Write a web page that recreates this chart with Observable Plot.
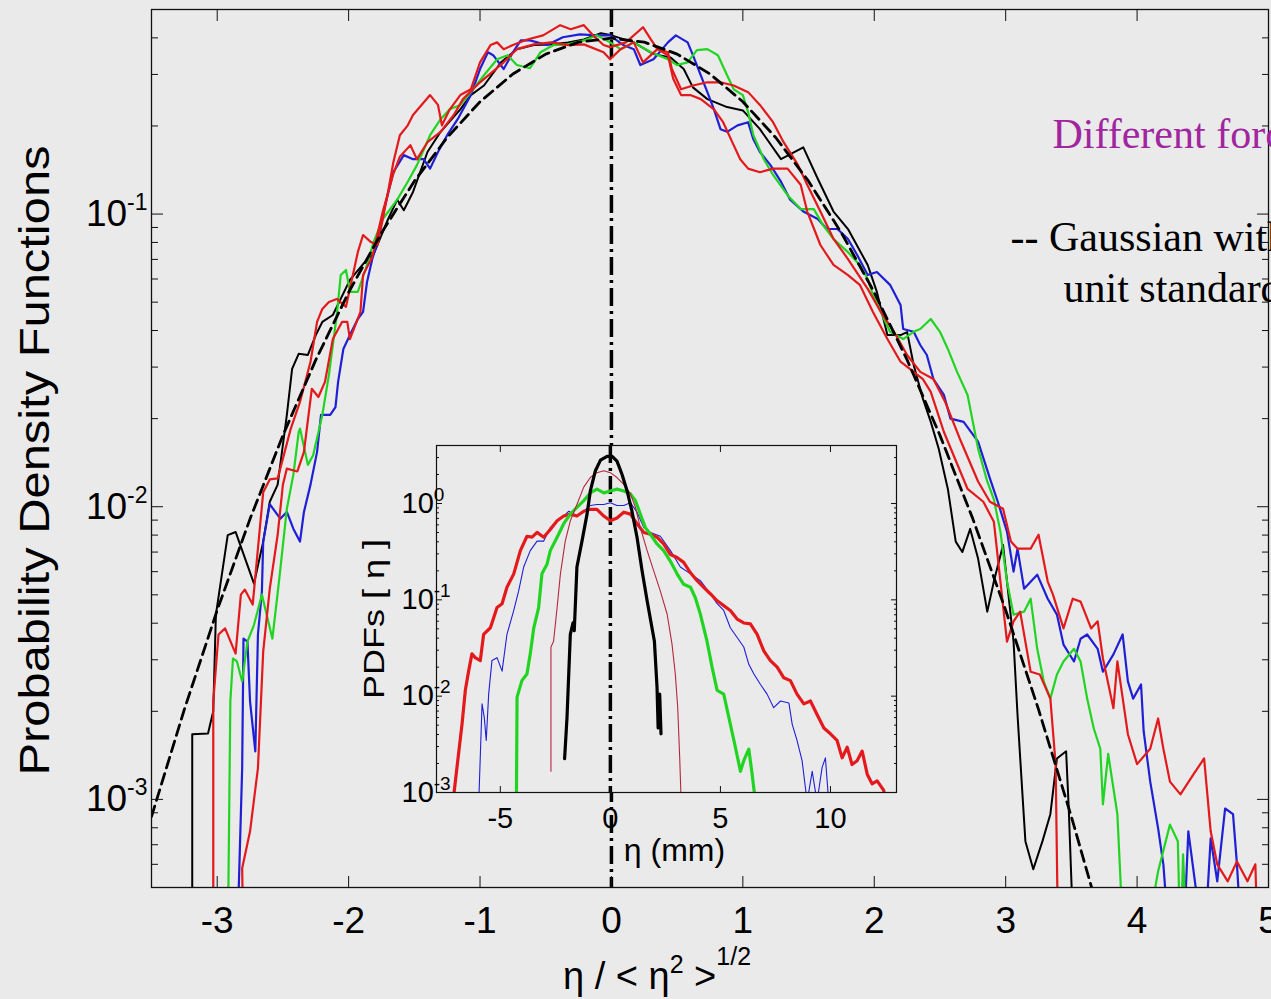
<!DOCTYPE html>
<html><head><meta charset="utf-8">
<script src="https://cdn.jsdelivr.net/npm/d3@7"></script>
<script src="https://cdn.jsdelivr.net/npm/@observablehq/plot@0.6"></script>
<style>
html,body{margin:0;padding:0;background:#eaeaea;overflow:hidden;width:1271px;height:999px;}
#wrap{position:relative;width:1271px;height:999px;}
#main{position:absolute;left:0;top:0;}
#inset{position:absolute;left:340px;top:430px;}
</style></head><body><div id="wrap"><div id="main"></div><div id="inset"></div></div>
<script>
// ---------- main panel: normalised elevation eta / <eta^2>^(1/2) ----------
const xTicks = [-3, -2, -1, 0, 1, 2, 3, 4, 5];
const yMajor = [1e-3, 1e-2, 1e-1];
const yMinor = [5e-4,6e-4,7e-4,8e-4,9e-4,2e-3,3e-3,4e-3,5e-3,6e-3,7e-3,8e-3,9e-3,2e-2,3e-2,4e-2,5e-2,6e-2,7e-2,8e-2,9e-2,0.2,0.3,0.4,0.5];

// Gaussian with zero mean and unit standard deviation (read at 0.25 steps)
const gaussX = [-3.5,-3.25,-3,-2.75,-2.5,-2.25,-2,-1.75,-1.5,-1.25,-1,-0.75,-0.5,-0.25,0,0.25,0.5,0.75,1,1.25,1.5,1.75,2,2.25,2.5,2.75,3,3.25,3.5,3.75];
const gaussY = [8.73e-4,2.03e-3,4.43e-3,9.09e-3,0.01753,0.03174,0.05399,0.08628,0.1295,0.1826,0.2420,0.3011,0.3521,0.3867,0.3989,0.3867,0.3521,0.3011,0.2420,0.1826,0.1295,0.08628,0.05399,0.03174,0.01753,9.09e-3,4.43e-3,2.03e-3,8.73e-4,3.53e-4];

const mainBlack = [[-3.19,3e-4],[-3.19,1.67e-3],[-3.07,1.68e-3],[-3.03,2.0e-3],[-3.01,4.28e-3],[-2.92,8.0e-3],[-2.86,8.2e-3],[-2.72,5.46e-3],[-2.65,7.6e-3],[-2.60,0.0104],[-2.54,0.0119],[-2.47,0.0206],[-2.43,0.0296],[-2.38,0.0333],[-2.31,0.0330],[-2.25,0.0386],[-2.20,0.0428],[-2.12,0.0452],[-1.99,0.0596],[-1.89,0.0675],[-1.81,0.073],[-1.70,0.096],[-1.63,0.112],[-1.58,0.103],[-1.51,0.119],[-1.40,0.163],[-1.30,0.191],[-1.15,0.228],[-1.07,0.255],[-0.97,0.275],[-0.84,0.330],[-0.72,0.366],[-0.59,0.378],[-0.46,0.380],[-0.33,0.386],[-0.21,0.395],[-0.08,0.415],[0.0,0.408],[0.17,0.386],[0.32,0.352],[0.45,0.343],[0.55,0.313],[0.62,0.271],[0.73,0.247],[0.88,0.232],[1.00,0.226],[1.13,0.195],[1.29,0.154],[1.46,0.169],[1.57,0.132],[1.69,0.102],[1.80,0.0889],[1.95,0.067],[2.02,0.0542],[2.10,0.0386],[2.20,0.0386],[2.25,0.0395],[2.30,0.0305],[2.37,0.0234],[2.43,0.0195],[2.49,0.0158],[2.56,0.0115],[2.62,7.6e-3],[2.67,7.0e-3],[2.73,8.4e-3],[2.79,6.65e-3],[2.86,4.38e-3],[2.91,5.55e-3],[2.98,7.4e-3],[3.06,3.46e-3],[3.09,1.95e-3],[3.13,1.0e-3],[3.15,7.2e-4],[3.21,5.77e-4],[3.28,7.2e-4],[3.34,8.9e-4],[3.39,1.38e-3],[3.46,1.46e-3],[3.48,9.3e-4],[3.52,3e-4]];

const mainRedA = [[-3.03,3e-4],[-3.03,2.16e-3],[-2.99,3.66e-3],[-2.94,3.84e-3],[-2.86,3.15e-3],[-2.82,5.01e-3],[-2.79,5.21e-3],[-2.73,4.63e-3],[-2.65,0.0112],[-2.60,0.0124],[-2.54,0.0125],[-2.50,0.0146],[-2.44,0.0185],[-2.37,0.0228],[-2.29,0.0313],[-2.24,0.0428],[-2.20,0.0474],[-2.15,0.0501],[-2.09,0.0513],[-2.02,0.0482],[-1.93,0.0741],[-1.89,0.0848],[-1.83,0.0802],[-1.78,0.0784],[-1.74,0.0962],[-1.70,0.119],[-1.66,0.150],[-1.61,0.186],[-1.55,0.201],[-1.51,0.218],[-1.38,0.255],[-1.32,0.236],[-1.29,0.201],[-1.23,0.228],[-1.15,0.255],[-1.07,0.267],[-1.00,0.330],[-0.92,0.378],[-0.87,0.386],[-0.82,0.366],[-0.75,0.378],[-0.64,0.395],[-0.52,0.408],[-0.39,0.442],[-0.31,0.428],[-0.21,0.442],[-0.14,0.408],[-0.06,0.378],[-0.01,0.372],[0.11,0.386],[0.24,0.435],[0.30,0.395],[0.35,0.366],[0.43,0.357],[0.46,0.313],[0.53,0.267],[0.62,0.275],[0.73,0.282],[0.83,0.282],[0.93,0.275],[1.04,0.261],[1.13,0.236],[1.23,0.206],[1.31,0.176],[1.42,0.147],[1.49,0.126],[1.59,0.102],[1.69,0.0822],[1.80,0.0702],[1.95,0.0555],[2.05,0.0463],[2.15,0.0396],[2.25,0.0330],[2.35,0.0289],[2.45,0.0273],[2.54,0.0228],[2.66,0.0167],[2.79,0.0122],[2.88,0.0104],[2.98,9.84e-3],[3.04,7.6e-3],[3.09,7.19e-3],[3.19,7.19e-3],[3.25,8.02e-3],[3.32,5.55e-3],[3.36,5.01e-3],[3.44,3.84e-3],[3.51,4.85e-3],[3.57,4.74e-3],[3.65,3.84e-3],[3.70,4.06e-3],[3.74,3.03e-3],[3.82,2.05e-3],[3.85,2.96e-3],[3.93,1.67e-3],[4.00,1.32e-3],[4.10,1.49e-3],[4.16,1.89e-3],[4.20,1.49e-3],[4.25,1.15e-3],[4.33,1.04e-3],[4.43,1.22e-3],[4.51,1.38e-3],[4.56,7.78e-4],[4.61,6.0e-4],[4.69,5.25e-4],[4.76,6.14e-4],[4.84,5.25e-4],[4.90,6.0e-4],[4.92,3e-4]];

const mainRedB = [[-2.80,3e-4],[-2.81,5.82e-4],[-2.75,7.78e-4],[-2.69,1.28e-3],[-2.65,3.2e-3],[-2.60,5.25e-3],[-2.54,8.02e-3],[-2.50,0.0119],[-2.47,0.0135],[-2.39,0.0132],[-2.34,0.0154],[-2.28,0.0253],[-2.23,0.0237],[-2.18,0.0267],[-2.12,0.0374],[-2.05,0.0428],[-2.01,0.0428],[-1.99,0.0374],[-1.91,0.0463],[-1.89,0.0619],[-1.82,0.0714],[-1.74,0.102],[-1.66,0.137],[-1.61,0.157],[-1.53,0.172],[-1.48,0.154],[-1.40,0.176],[-1.30,0.191],[-1.20,0.218],[-1.13,0.247],[-1.00,0.282],[-0.82,0.330],[-0.72,0.366],[-0.59,0.380],[-0.46,0.386],[-0.33,0.378],[-0.21,0.380],[-0.06,0.357],[-0.01,0.338],[0.07,0.366],[0.17,0.386],[0.24,0.330],[0.35,0.366],[0.43,0.349],[0.47,0.290],[0.53,0.255],[0.60,0.255],[0.68,0.247],[0.78,0.228],[0.85,0.206],[0.93,0.172],[0.98,0.154],[1.04,0.143],[1.13,0.139],[1.23,0.143],[1.34,0.143],[1.44,0.126],[1.49,0.102],[1.59,0.0784],[1.69,0.0670],[1.80,0.0619],[1.89,0.0573],[1.99,0.0463],[2.10,0.0374],[2.20,0.0313],[2.30,0.0289],[2.37,0.0273],[2.43,0.0247],[2.53,0.0180],[2.71,0.0115],[2.83,0.0104],[2.91,8.89e-3],[2.96,5.55e-3],[3.01,3.46e-3],[3.06,4.06e-3],[3.11,4.38e-3],[3.19,2.73e-3],[3.26,2.67e-3],[3.34,2.21e-3],[3.38,1.32e-3],[3.40,3e-4]];

const mainBlue = [[-2.85,3e-4],[-2.81,1.28e-3],[-2.80,3.54e-3],[-2.77,3.46e-3],[-2.75,2.16e-3],[-2.71,1.46e-3],[-2.69,3.66e-3],[-2.66,5.13e-3],[-2.65,7.6e-3],[-2.60,0.0102],[-2.52,9.1e-3],[-2.47,9.6e-3],[-2.42,8.4e-3],[-2.37,7.6e-3],[-2.34,9.6e-3],[-2.29,0.0119],[-2.24,0.0154],[-2.21,0.0206],[-2.14,0.0206],[-2.10,0.0219],[-2.08,0.0267],[-2.04,0.0346],[-1.99,0.0386],[-1.93,0.0438],[-1.89,0.0463],[-1.86,0.0586],[-1.82,0.0702],[-1.78,0.0802],[-1.74,0.0992],[-1.66,0.139],[-1.58,0.159],[-1.51,0.154],[-1.43,0.154],[-1.38,0.143],[-1.32,0.163],[-1.25,0.186],[-1.17,0.211],[-1.07,0.255],[-1.00,0.313],[-0.94,0.357],[-0.90,0.349],[-0.82,0.313],[-0.75,0.357],[-0.69,0.392],[-0.62,0.392],[-0.49,0.378],[-0.37,0.402],[-0.24,0.411],[-0.11,0.408],[-0.01,0.408],[0.09,0.378],[0.17,0.366],[0.22,0.323],[0.32,0.338],[0.43,0.386],[0.49,0.408],[0.58,0.386],[0.62,0.349],[0.68,0.298],[0.73,0.261],[0.78,0.228],[0.83,0.195],[0.88,0.191],[0.96,0.201],[1.04,0.206],[1.08,0.180],[1.13,0.163],[1.21,0.147],[1.29,0.129],[1.36,0.112],[1.46,0.102],[1.57,0.0962],[1.64,0.0889],[1.72,0.0889],[1.80,0.0822],[1.87,0.0725],[1.95,0.0619],[2.02,0.0634],[2.12,0.0573],[2.20,0.0489],[2.22,0.0405],[2.30,0.0396],[2.35,0.0357],[2.40,0.0330],[2.45,0.0273],[2.53,0.0241],[2.58,0.0200],[2.68,0.0195],[2.79,0.0167],[2.88,0.0125],[2.94,0.0104],[3.01,8.22e-3],[3.06,6.0e-3],[3.09,7.19e-3],[3.14,5.25e-3],[3.24,5.86e-3],[3.32,4.85e-3],[3.39,4.28e-3],[3.44,3.38e-3],[3.52,2.96e-3],[3.57,3.54e-3],[3.62,3.66e-3],[3.70,3.27e-3],[3.74,2.73e-3],[3.82,3.13e-3],[3.89,3.66e-3],[3.93,2.53e-3],[3.97,2.21e-3],[4.03,2.47e-3],[4.05,1.71e-3],[4.10,1.15e-3],[4.16,7.96e-4],[4.20,6.0e-4],[4.25,3e-4],[4.35,3e-4],[4.39,7.78e-4],[4.44,5.25e-4],[4.51,3e-4],[4.56,7.36e-4],[4.61,5.25e-4],[4.67,9.31e-4],[4.73,8.9e-4],[4.76,6.0e-4],[4.80,3e-4]];

const mainGreen = [[-2.92,3e-4],[-2.90,2.16e-3],[-2.88,3.03e-3],[-2.85,2.96e-3],[-2.81,2.53e-3],[-2.77,3.46e-3],[-2.72,3.95e-3],[-2.66,5.01e-3],[-2.58,3.54e-3],[-2.53,5.55e-3],[-2.47,9.84e-3],[-2.42,0.0129],[-2.38,0.0180],[-2.37,0.0185],[-2.31,0.0139],[-2.27,0.0150],[-2.20,0.0206],[-2.15,0.0282],[-2.09,0.0452],[-2.06,0.0619],[-2.02,0.0644],[-1.99,0.0542],[-1.93,0.0542],[-1.87,0.0649],[-1.81,0.0802],[-1.74,0.0962],[-1.63,0.112],[-1.55,0.129],[-1.48,0.147],[-1.38,0.186],[-1.30,0.211],[-1.23,0.228],[-1.15,0.236],[-1.07,0.261],[-0.97,0.298],[-0.87,0.338],[-0.79,0.349],[-0.72,0.323],[-0.62,0.315],[-0.54,0.357],[-0.44,0.378],[-0.33,0.380],[-0.21,0.392],[-0.11,0.408],[-0.01,0.386],[0.07,0.366],[0.17,0.386],[0.30,0.357],[0.43,0.338],[0.50,0.323],[0.58,0.330],[0.65,0.363],[0.73,0.366],[0.81,0.349],[0.88,0.298],[0.93,0.267],[1.00,0.255],[1.04,0.223],[1.08,0.186],[1.16,0.154],[1.23,0.136],[1.34,0.116],[1.44,0.104],[1.54,0.104],[1.61,0.0917],[1.69,0.0822],[1.80,0.0741],[1.89,0.0670],[1.95,0.0600],[1.99,0.0530],[2.05,0.0463],[2.12,0.0396],[2.22,0.0374],[2.30,0.0396],[2.35,0.0405],[2.43,0.0438],[2.50,0.0396],[2.56,0.0346],[2.63,0.0289],[2.71,0.0241],[2.79,0.0158],[2.86,0.0122],[2.91,0.0106],[2.96,8.22e-3],[3.01,5.55e-3],[3.06,4.28e-3],[3.14,4.38e-3],[3.19,4.85e-3],[3.24,3.27e-3],[3.29,2.53e-3],[3.34,2.21e-3],[3.39,2.67e-3],[3.44,2.96e-3],[3.52,3.27e-3],[3.57,2.96e-3],[3.62,2.21e-3],[3.67,1.75e-3],[3.72,1.49e-3],[3.74,9.62e-4],[3.78,1.43e-3],[3.85,8.9e-4],[3.90,3e-4],[4.05,3e-4],[4.16,5.68e-4],[4.25,8.2e-4],[4.31,7.2e-4],[4.33,3e-4],[4.35,6.49e-4],[4.38,3e-4]];

// ---------- inset: PDFs of eta in mm ----------
const insetXTicks = [-5, 0, 5, 10];
const insetYMajor = [1e-3, 1e-2, 1e-1, 1];
const insetYMinor = [2e-3,3e-3,4e-3,5e-3,6e-3,7e-3,8e-3,9e-3,2e-2,3e-2,4e-2,5e-2,6e-2,7e-2,8e-2,9e-2,0.2,0.3,0.4,0.5,0.6,0.7,0.8,0.9,2,3,4];

const insetBlack = [[-2.08,2.24e-3],[-1.97,6.03e-3],[-1.82,0.0437],[-1.70,0.0575],[-1.64,0.0479],[-1.52,0.219],[-1.29,0.407],[-1.06,0.776],[-0.91,1.35],[-0.68,2.19],[-0.45,2.82],[-0.15,3.09],[0.08,3.09],[0.30,2.75],[0.53,2.0],[0.76,1.35],[0.98,0.832],[1.21,0.447],[1.44,0.200],[1.67,0.0977],[1.89,0.0513],[2.00,0.0372],[2.12,0.0123],[2.17,4.68e-3],[2.24,0.0105],[2.30,4.07e-3]];
const insetDarkRed = [[-2.70,1.66e-3],[-2.70,0.0324],[-2.58,0.0372],[-2.42,0.0832],[-2.27,0.186],[-2.05,0.407],[-1.82,0.661],[-1.52,0.977],[-1.21,1.48],[-0.91,1.86],[-0.61,2.09],[-0.30,2.19],[0,2.09],[0.30,1.86],[0.61,1.58],[0.91,1.26],[1.14,0.912],[1.36,0.562],[1.67,0.324],[1.97,0.200],[2.27,0.123],[2.58,0.0708],[2.80,0.0347],[2.95,0.0170],[3.06,7.59e-3],[3.15,2.29e-3],[3.21,8.9e-4]];
const insetGreen = [[-4.27,8e-4],[-4.24,9.77e-3],[-4.02,0.0145],[-3.79,0.0170],[-3.64,0.0275],[-3.48,0.0513],[-3.26,0.0832],[-3.11,0.186],[-2.88,0.234],[-2.73,0.324],[-2.42,0.447],[-2.12,0.617],[-1.82,0.776],[-1.52,0.912],[-1.21,1.07],[-0.91,1.29],[-0.61,1.41],[-0.30,1.29],[0,1.35],[0.30,1.41],[0.61,1.35],[0.91,1.26],[1.14,1.07],[1.36,0.776],[1.59,0.562],[1.82,0.479],[2.12,0.380],[2.42,0.324],[2.73,0.251],[3.03,0.186],[3.33,0.145],[3.64,0.135],[3.86,0.105],[4.09,0.0708],[4.39,0.0372],[4.62,0.0200],[4.85,0.0115],[5.15,0.0105],[5.45,5.13e-3],[5.68,2.95e-3],[5.91,1.66e-3],[6.06,2.14e-3],[6.29,2.82e-3],[6.44,1.55e-3],[6.59,8e-4]];
const insetBlue = [[-5.98,8e-4],[-5.83,8.32e-3],[-5.73,6.03e-3],[-5.64,3.47e-3],[-5.53,0.0105],[-5.38,0.0234],[-5.15,0.0251],[-4.92,0.0182],[-4.70,0.0437],[-4.39,0.0776],[-4.17,0.123],[-3.94,0.219],[-3.64,0.324],[-3.33,0.407],[-3.03,0.407],[-2.73,0.562],[-2.42,0.661],[-2.12,0.741],[-1.89,0.832],[-1.52,0.741],[-1.21,0.832],[-0.91,0.955],[-0.61,0.977],[-0.30,0.977],[0,1.02],[0.30,0.955],[0.61,0.955],[0.91,1.02],[1.21,0.813],[1.52,0.562],[1.82,0.501],[2.27,0.457],[2.73,0.324],[3.18,0.219],[3.64,0.186],[4.09,0.158],[4.55,0.115],[4.85,0.0912],[5.15,0.0776],[5.45,0.0513],[5.76,0.0407],[6.06,0.0324],[6.29,0.0214],[6.52,0.0170],[6.82,0.0132],[7.12,0.0105],[7.42,7.59e-3],[7.73,8.91e-3],[8.11,8.51e-3],[8.26,5.13e-3],[8.48,3.47e-3],[8.71,2.14e-3],[8.94,8e-4],[9.17,1.66e-3],[9.39,8e-4],[9.62,1.82e-3],[9.77,2.29e-3],[9.92,8e-4]];
const insetRed = [[-7.15,8e-4],[-6.97,1.82e-3],[-6.74,5.13e-3],[-6.59,0.0115],[-6.44,0.0182],[-6.29,0.0275],[-6.14,0.0251],[-5.91,0.0234],[-5.76,0.0437],[-5.45,0.0513],[-5.15,0.0832],[-4.92,0.0912],[-4.70,0.135],[-4.39,0.186],[-4.09,0.324],[-3.79,0.457],[-3.56,0.447],[-3.33,0.501],[-3.03,0.447],[-2.73,0.537],[-2.42,0.661],[-2.12,0.741],[-1.82,0.776],[-1.52,0.741],[-1.21,0.832],[-0.91,0.871],[-0.61,0.871],[-0.30,0.741],[0,0.661],[0.30,0.708],[0.61,0.813],[0.91,0.776],[1.21,0.617],[1.52,0.501],[1.82,0.479],[2.12,0.447],[2.42,0.380],[2.73,0.295],[3.03,0.275],[3.33,0.245],[3.64,0.191],[3.94,0.158],[4.24,0.135],[4.55,0.115],[4.85,0.0977],[5.15,0.0871],[5.45,0.0776],[5.76,0.0631],[6.06,0.0575],[6.36,0.0562],[6.67,0.0437],[6.97,0.0295],[7.27,0.0234],[7.58,0.0200],[7.88,0.0155],[8.18,0.0145],[8.48,0.0105],[8.79,8.32e-3],[9.09,8.91e-3],[9.39,6.46e-3],[9.70,4.68e-3],[10.0,4.07e-3],[10.30,3.47e-3],[10.53,2.29e-3],[10.76,2.95e-3],[10.98,1.95e-3],[11.21,2.14e-3],[11.44,2.69e-3],[11.67,1.55e-3],[11.89,1.23e-3],[12.12,1.32e-3],[12.42,1.05e-3],[12.5,8e-4]];

const BG = "#eaeaea";
const RED = "#e3191c", BLUE = "#1f1fd6", GREEN = "#22d422", DARKRED = "#b3283a";
const SANS = "'Liberation Sans', Arial, Helvetica, sans-serif";
const SERIF = "'Liberation Serif', 'Times New Roman', serif";
const sup = d => "10^" + Math.round(Math.log10(d));
const hyph = d => (d < 0 ? "-" + Math.abs(d) : String(d));
const ln = (data, stroke, w) => Plot.line(data, {x: d => d[0], y: d => d[1], stroke, strokeWidth: w, clip: true, strokeLinejoin: "round"});
const note = (t, dx, dy, fill) => Plot.text([t], {text: d => d, frameAnchor: "top-left", dx, dy, textAnchor: "start", lineAnchor: "middle", fontFamily: SERIF, fontSize: 42, fill});

const main = Plot.plot({
  width: 1271, height: 999,
  marginLeft: 151, marginRight: 3, marginTop: 9, marginBottom: 112,
  style: {background: "none", fontFamily: SANS, color: "#000"},
  x: {domain: [-3.5, 5]},
  y: {type: "log", domain: [5e-4, 0.5]},
  marks: [
    Plot.ruleX([0], {stroke: "#000", strokeWidth: 3.5, strokeDasharray: "18,5,3,5"}),
    ln(mainBlack, "#000", 2),
    ln(mainBlue, BLUE, 2.2),
    ln(mainGreen, GREEN, 2.2),
    ln(mainRedB, RED, 2.2),
    ln(mainRedA, RED, 2.2),
    Plot.line(gaussX.map((x, i) => [x, gaussY[i]]), {x: d => d[0], y: d => d[1], stroke: "#000", strokeWidth: 2.8, strokeDasharray: "11,6", clip: true}),
    Plot.frame({stroke: "#111", strokeWidth: 1.3}),
    Plot.axisX(xTicks, {anchor: "bottom", tickSize: 11, dy: -11, fill: "none", stroke: "#111", label: null}),
    Plot.axisX(xTicks, {anchor: "top", tickSize: 11, dy: 11, fill: "none", stroke: "#111", label: null}),
    Plot.axisX(xTicks, {anchor: "bottom", tickSize: 0, tickPadding: 19, fontSize: 37, tickFormat: hyph, label: null}),
    Plot.axisY(yMajor, {anchor: "left", tickSize: 12, dx: 12, fill: "none", stroke: "#111", label: null}),
    Plot.axisY(yMinor, {anchor: "left", tickSize: 7, dx: 7, fill: "none", stroke: "#111", label: null}),
    Plot.axisY(yMajor, {anchor: "right", tickSize: 12, dx: -12, fill: "none", stroke: "#111", label: null}),
    Plot.axisY(yMinor, {anchor: "right", tickSize: 7, dx: -7, fill: "none", stroke: "#111", label: null}),
    Plot.axisY(yMajor, {anchor: "left", tickSize: 0, tickPadding: 4, fontSize: 37, tickFormat: sup, label: null}),
    Plot.text(["Probability Density Functions"], {text: d => d, frameAnchor: "left", textAnchor: "middle", lineAnchor: "middle", rotate: -90, dx: -116, dy: 12, fontSize: 42}),
    Plot.text(["η / < η2 >1/2"], {text: d => d, frameAnchor: "bottom", textAnchor: "middle", lineAnchor: "middle", dx: -53, dy: 89, fontSize: 38}),
    note("Different forcing", 901, 124.6, "#a0259f"),
    note("-- Gaussian with", 859, 227.6, "#000"),
    note("unit standard deviation", 912, 279.3, "#000")
  ]
});

const inset = Plot.plot({
  width: 580, height: 445,
  marginLeft: 96, marginRight: 24, marginTop: 15, marginBottom: 83,
  style: {background: "none", fontFamily: SANS, color: "#000"},
  x: {domain: [-7.9, 13]},
  y: {type: "log", domain: [1e-3, 4]},
  marks: [
    Plot.frame({fill: BG, stroke: "none"}),
    Plot.ruleX([0], {stroke: "#000", strokeWidth: 3.5, strokeDasharray: "18,5,3,5"}),
    ln(insetBlue, BLUE, 1.1),
    ln(insetRed, RED, 3.2),
    ln(insetGreen, GREEN, 3.2),
    ln(insetDarkRed, DARKRED, 1.1),
    ln(insetBlack, "#000", 3.2),
    Plot.frame({stroke: "#111", strokeWidth: 1.2}),
    Plot.axisX(insetXTicks, {anchor: "bottom", tickSize: 6, dy: -6, fill: "none", stroke: "#111", label: null}),
    Plot.axisX(insetXTicks, {anchor: "top", tickSize: 6, dy: 6, fill: "none", stroke: "#111", label: null}),
    Plot.axisX(insetXTicks, {anchor: "bottom", tickSize: 0, tickPadding: 15, fontSize: 29, tickFormat: hyph, label: null}),
    Plot.axisY(insetYMajor, {anchor: "left", tickSize: 6, dx: 6, fill: "none", stroke: "#111", label: null}),
    Plot.axisY(insetYMinor, {anchor: "left", tickSize: 3, dx: 3, fill: "none", stroke: "#111", label: null}),
    Plot.axisY(insetYMajor, {anchor: "right", tickSize: 6, dx: -6, fill: "none", stroke: "#111", label: null}),
    Plot.axisY(insetYMinor, {anchor: "right", tickSize: 3, dx: -3, fill: "none", stroke: "#111", label: null}),
    Plot.axisY(insetYMajor, {anchor: "left", tickSize: 0, tickPadding: 35, textAnchor: "start", fontSize: 29, tickFormat: sup, label: null}),
    Plot.text(["PDFs [ η ]"], {text: d => d, frameAnchor: "left", textAnchor: "middle", lineAnchor: "middle", rotate: -90, dx: -62, fontSize: 30}),
    Plot.text(["η (mm)"], {text: d => d, frameAnchor: "bottom", textAnchor: "middle", lineAnchor: "middle", dx: 8, dy: 58, fontSize: 32})
  ]
});

document.getElementById("main").appendChild(main);
document.getElementById("inset").appendChild(inset);

// superscript exponents on log tick labels
function supLabels(svg, expSize, rise) {
  d3.select(svg).selectAll("text").each(function () {
    const t = this.textContent;
    if (!/^10\^/.test(t)) return;
    const [b, e] = t.split("^");
    const s = d3.select(this);
    s.text(null);
    s.append("tspan").text(b);
    s.append("tspan").attr("dy", -rise).attr("font-size", expSize).text(e);
  });
}
supLabels(main, 23, 16);
supLabels(inset, 19, 12);

function findText(svg, str) {
  return d3.select(svg).selectAll("text").filter(function () { return this.textContent === str; });
}
// x title with superscripts
const xt = findText(main, "η / < η2 >1/2");
xt.text(null);
xt.append("tspan").text("η / < η");
xt.append("tspan").attr("dy", -16).attr("font-size", 25).text("2");
xt.append("tspan").attr("dy", 16).text(" >");
xt.append("tspan").attr("dy", -24).attr("font-size", 25).text("1/2");

findText(main, "Probability Density Functions").attr("textLength", 630).attr("lengthAdjust", "spacingAndGlyphs");
findText(inset, "PDFs [ η ]").attr("textLength", 160).attr("lengthAdjust", "spacingAndGlyphs");
</script></body></html>
